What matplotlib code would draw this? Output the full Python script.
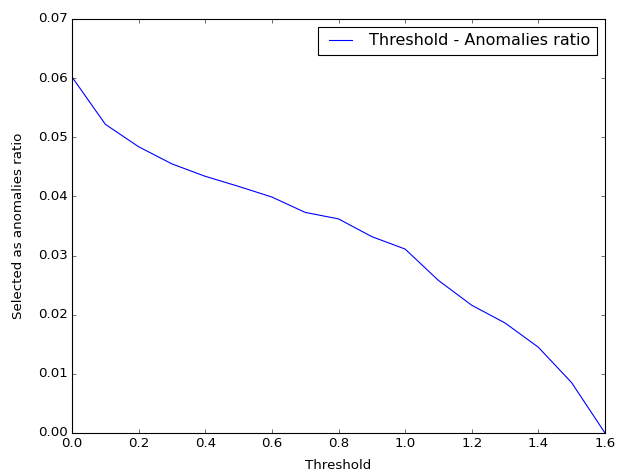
import matplotlib
matplotlib.use("Agg")
import matplotlib.pyplot as plt

thresholds = [0.0, 0.1, 0.2, 0.3, 0.4, 0.5, 0.6, 0.7, 0.8, 0.9, 1.0, 1.1, 1.2, 1.3, 1.4, 1.5, 1.6]
ratios = [0.0602, 0.0522, 0.0484, 0.0455, 0.0434, 0.0417, 0.0399, 0.0373, 0.0362,
          0.0332, 0.0311, 0.0258, 0.0216, 0.0186, 0.0145, 0.0085, 0.0]

plt.style.use('classic')
fig = plt.figure(figsize=(618/80, 473/80), dpi=80)
ax = fig.add_axes([72/618, 1-433/473, (605-72)/618, (433-19)/473])
ax.plot(thresholds, ratios, color='b', label='Threshold - Anomalies ratio')
ax.set_xlim(0, 1.6)
ax.set_ylim(0, 0.07)
ax.set_xlabel('Threshold', labelpad=8)
ax.set_ylabel('Selected as anomalies ratio', labelpad=11)
ax.legend(loc='upper right')
fig.savefig('out.png', dpi=80, facecolor='white')
